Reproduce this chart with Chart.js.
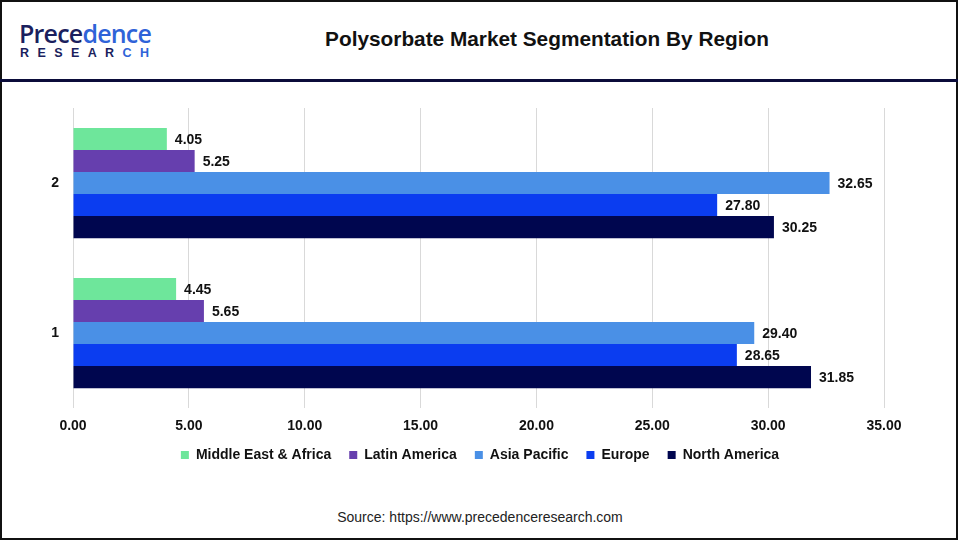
<!DOCTYPE html>
<html>
<head>
<meta charset="utf-8">
<script src="https://cdn.jsdelivr.net/npm/chart.js@4.4.1/dist/chart.umd.min.js"></script>
<style>
  html, body { margin: 0; padding: 0; background: #fff; }
  #frame { position: relative; width: 960px; height: 540px; overflow: hidden; font-family: "Liberation Sans", Arial, sans-serif; }
  #border { position: absolute; left: 0; top: 0; width: 954px; height: 536px; border: 2px solid #111; }
  #rule { position: absolute; left: 0; top: 79px; width: 958px; height: 3px; background: #0b0c3a; }
  #logo1 { position: absolute; left: 19px; top: 18px; font-family: "Open Sans", sans-serif; font-size: 25px; font-weight: 600; letter-spacing: -0.8px; color: #1b1f5e; line-height: 30px; }
  #logo1 span { color: #2f63d8; }
  #logo2 { position: absolute; left: 20px; top: 46px; font-family: "Liberation Sans", sans-serif; font-size: 12.5px; font-weight: bold; letter-spacing: 8.4px; color: #1b1f5e; }
  #logo2 span { color: #2f63d8; }
  #title { position: absolute; left: 297px; width: 500px; top: 27px; text-align: center; font-size: 20.8px; font-weight: bold; color: #111; }
  #source { position: absolute; left: 0; width: 960px; top: 509px; text-align: center; font-size: 14px; color: #222; }
  #wrap { position: absolute; left: 0; top: 90px; width: 960px; height: 390px; }
</style>
</head>
<body>
<div id="frame">
  <div id="border"></div>
  <div id="logo1">Prece<span>dence</span></div>
  <div id="logo2">RESEAR<span>CH</span></div>
  <div id="title">Polysorbate Market Segmentation By Region</div>
  <div id="rule"></div>
  <div id="wrap"><canvas id="chart"></canvas></div>
  <div id="source">Source: https://www.precedenceresearch.com</div>
</div>
<script>
// categories, top to bottom as drawn
var categories = ['2', '1'];
var regions = ['Middle East & Africa', 'Latin America', 'Asia Pacific', 'Europe', 'North America'];
var colors = ['#6ee69b', '#663fae', '#4a90e6', '#0b3df0', '#00064f'];

var middleEastAfrica = [4.05, 4.45];
var latinAmerica = [5.25, 5.65];
var asiaPacific = [32.65, 29.40];
var europe = [27.80, 28.65];
var northAmerica = [30.25, 31.85];
var xTicks = [0, 5, 10, 15, 20, 25, 30, 35];

var seriesValues = [middleEastAfrica, latinAmerica, asiaPacific, europe, northAmerica];
var font = '"Liberation Sans", Arial, sans-serif';

var datasets = regions.map(function (name, i) {
  return {
    label: name,
    data: seriesValues[i],
    backgroundColor: colors[i],
    borderWidth: 0,
    barPercentage: 1.0,
    categoryPercentage: 0.735
  };
});

// draw value labels at the end of each bar
var valueLabels = {
  id: 'valueLabels',
  afterDatasetsDraw: function (chart) {
    var ctx = chart.ctx;
    ctx.save();
    ctx.font = 'bold 14px ' + font;
    ctx.fillStyle = '#111';
    ctx.textAlign = 'left';
    ctx.textBaseline = 'middle';
    chart.data.datasets.forEach(function (ds, i) {
      chart.getDatasetMeta(i).data.forEach(function (bar, j) {
        ctx.fillText(ds.data[j].toFixed(2), bar.x + 8, bar.y + 1);
      });
    });
    ctx.restore();
  }
};

var ctx = document.getElementById('chart');
var chart = new Chart(ctx, {
  type: 'bar',
  data: { labels: categories, datasets: datasets },
  plugins: [valueLabels],
  options: {
    indexAxis: 'y',
    responsive: true,
    maintainAspectRatio: false,
    animation: false,
    layout: { padding: { top: 18, right: 0, left: 0, bottom: 8 } },
    plugins: {
      legend: {
        position: 'bottom',
        labels: {
          boxWidth: 8,
          boxHeight: 8,
          padding: 18,
          color: '#111',
          font: { family: font, size: 14, weight: 'bold' }
        }
      },
      tooltip: { enabled: false }
    },
    scales: {
      x: {
        min: 0,
        max: 35,
        afterBuildTicks: function (scale) {
          scale.ticks = xTicks.map(function (v) { return { value: v }; });
        },
        afterFit: function (scale) { scale.height = 22; },
        grid: { color: '#d9d9d9', drawTicks: false },
        border: { display: false },
        ticks: {
          padding: 10,
          color: '#111',
          font: { family: font, size: 14, weight: 'bold' },
          callback: function (v) { return Number(v).toFixed(2); }
        }
      },
      y: {
        afterFit: function (scale) {
          scale.width = 73;
          scale.paddingTop = 0;
          scale.paddingBottom = 0;
        },
        grid: { display: false, drawTicks: false },
        border: { display: false },
        ticks: {
          padding: 14,
          color: '#111',
          font: { family: font, size: 14, weight: 'bold' }
        }
      },
      // empty right-hand axis that keeps the room to the right of the plot
      yRight: {
        position: 'right',
        afterFit: function (scale) {
          scale.width = 76;
          scale.paddingTop = 0;
          scale.paddingBottom = 0;
        },
        grid: { display: false, drawTicks: false },
        border: { display: false },
        ticks: { display: false }
      }
    }
  }
});
</script>
</body>
</html>
